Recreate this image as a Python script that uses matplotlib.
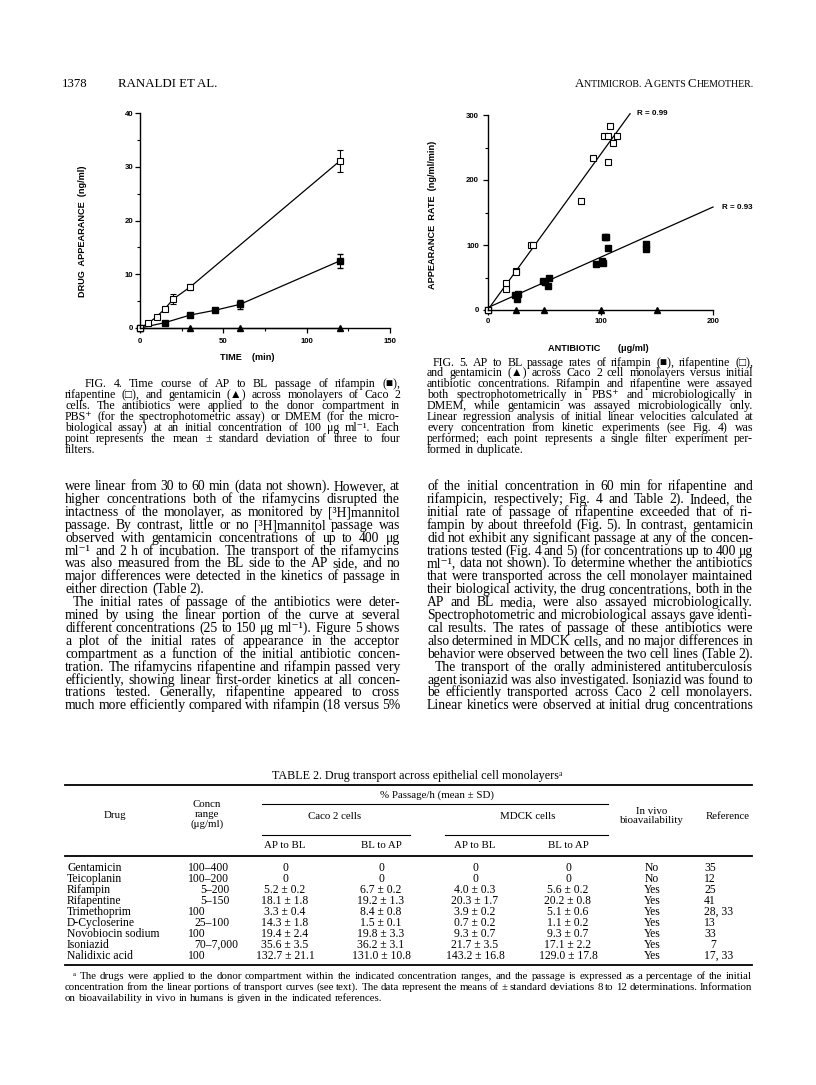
import math
import numpy as np
import matplotlib
matplotlib.use('Agg')
import matplotlib.pyplot as plt
from matplotlib.lines import Line2D
from matplotlib.ticker import MultipleLocator

# ---- Fig. 4 data: drug appearance (ng/ml) vs time (min)
time_pent = [0, 5, 10, 15, 20, 30, 120]
pent = [0, 0.9, 2.1, 3.6, 5.4, 7.6, 31.1]
pent_sd = [0, 0.3, 0.4, 0.4, 1.0, 0.5, 2.1]
time_rif = [0, 15, 30, 45, 60, 120]
rif = [0, 1.0, 2.4, 3.3, 4.4, 12.5]
rif_sd = [0, 0.2, 0.3, 0.3, 0.9, 1.3]
time_gen = [0, 30, 60, 120]
gen = [0, 0, 0, 0]

# ---- Fig. 5 data: appearance rate (ng/ml/min) vs antibiotic (ug/ml)
pent_conc = [0, 16, 16, 25, 25, 38, 40, 83, 93, 103, 107, 108, 107, 111, 115]
pent_rate = [0, 33, 42, 60, 59, 100, 100, 168, 234, 267, 267, 283, 228, 257, 267]
rif_conc = [0, 24, 26, 27, 49, 51, 53, 54, 96, 101, 102, 104, 105, 107, 140, 140]
rif_rate = [0, 23, 17, 25, 45, 43, 37, 49, 71, 75, 72, 113, 112, 95, 101, 94]
gen_conc = [25, 50, 100, 150]
gen_rate = [0, 0, 0, 0]
r_labels = ['R = 0.99', 'R = 0.93']

# ---- Table 2
drugs = ['Gentamicin', 'Teicoplanin', 'Rifampin', 'Rifapentine', 'Trimethoprim',
         'D-Cycloserine', 'Novobiocin sodium', 'Isoniazid', 'Nalidixic acid']
conc_range = ['100–400', '100–200', '5–200', '5–150', '100', '25–100', '100', '70–7,000', '100']
caco_ap_bl = ['0', '0', '5.2 ± 0.2', '18.1 ± 1.8', '3.3 ± 0.4', '14.3 ± 1.8', '19.4 ± 2.4', '35.6 ± 3.5', '132.7 ± 21.1']
caco_bl_ap = ['0', '0', '6.7 ± 0.2', '19.2 ± 1.3', '8.4 ± 0.8', '1.5 ± 0.1', '19.8 ± 3.3', '36.2 ± 3.1', '131.0 ± 10.8']
mdck_ap_bl = ['0', '0', '4.0 ± 0.3', '20.3 ± 1.7', '3.9 ± 0.2', '0.7 ± 0.2', '9.3 ± 0.7', '21.7 ± 3.5', '143.2 ± 16.8']
mdck_bl_ap = ['0', '0', '5.6 ± 0.2', '20.2 ± 0.8', '5.1 ± 0.6', '1.1 ± 0.2', '9.3 ± 0.7', '17.1 ± 2.2', '129.0 ± 17.8']
bioavail = ['No', 'No', 'Yes', 'Yes', 'Yes', 'Yes', 'Yes', 'Yes', 'Yes']
refs = ['35', '12', '25', '41', '28, 33', '13', '33', '7', '17, 33']

# ---- page text
cap4 = ['FIG. 4. Time course of AP to BL passage of rifampin (■),',
        'rifapentine (□), and gentamicin (▲) across monolayers of Caco 2',
        'cells. The antibiotics were applied to the donor compartment in',
        'PBS⁺ (for the spectrophotometric assay) or DMEM (for the micro-',
        'biological assay) at an initial concentration of 100 μg ml⁻¹. Each',
        'point represents the mean ± standard deviation of three to four',
        'filters.']
cap5 = ['FIG. 5. AP to BL passage rates of rifampin (■), rifapentine (□),',
        'and gentamicin (▲) across Caco 2 cell monolayers versus initial',
        'antibiotic concentrations. Rifampin and rifapentine were assayed',
        'both spectrophotometrically in PBS⁺ and microbiologically in',
        'DMEM, while gentamicin was assayed microbiologically only.',
        'Linear regression analysis of initial linear velocities calculated at',
        'every concentration from kinetic experiments (see Fig. 4) was',
        'performed; each point represents a single filter experiment per-',
        'formed in duplicate.']
body_left = ['were linear from 30 to 60 min (data not shown). However, at',
             'higher concentrations both of the rifamycins disrupted the',
             'intactness of the monolayer, as monitored by [³H]mannitol',
             'passage. By contrast, little or no [³H]mannitol passage was',
             'observed with gentamicin concentrations of up to 400 μg',
             'ml⁻¹ and 2 h of incubation. The transport of the rifamycins',
             'was also measured from the BL side to the AP side, and no',
             'major differences were detected in the kinetics of passage in',
             'either direction (Table 2).',
             'The initial rates of passage of the antibiotics were deter-',
             'mined by using the linear portion of the curve at several',
             'different concentrations (25 to 150 μg ml⁻¹). Figure 5 shows',
             'a plot of the initial rates of appearance in the acceptor',
             'compartment as a function of the initial antibiotic concen-',
             'tration. The rifamycins rifapentine and rifampin passed very',
             'efficiently, showing linear first-order kinetics at all concen-',
             'trations tested. Generally, rifapentine appeared to cross',
             'much more efficiently compared with rifampin (18 versus 5%']
body_right = ['of the initial concentration in 60 min for rifapentine and',
              'rifampicin, respectively; Fig. 4 and Table 2). Indeed, the',
              'initial rate of passage of rifapentine exceeded that of ri-',
              'fampin by about threefold (Fig. 5). In contrast, gentamicin',
              'did not exhibit any significant passage at any of the concen-',
              'trations tested (Fig. 4 and 5) (for concentrations up to 400 μg',
              'ml⁻¹, data not shown). To determine whether the antibiotics',
              'that were transported across the cell monolayer maintained',
              'their biological activity, the drug concentrations, both in the',
              'AP and BL media, were also assayed microbiologically.',
              'Spectrophotometric and microbiological assays gave identi-',
              'cal results. The rates of passage of these antibiotics were',
              'also determined in MDCK cells, and no major differences in',
              'behavior were observed between the two cell lines (Table 2).',
              'The transport of the orally administered antituberculosis',
              'agent isoniazid was also investigated. Isoniazid was found to',
              'be efficiently transported across Caco 2 cell monolayers.',
              'Linear kinetics were observed at initial drug concentrations']
footnote = ['ᵃ The drugs were applied to the donor compartment within the indicated concentration ranges, and the passage is expressed as a percentage of the initial',
            'concentration from the linear portions of transport curves (see text). The data represent the means of ± standard deviations 8 to 12 determinations. Information',
            'on bioavailability in vivo in humans is given in the indicated references.']

SERIF = ['Liberation Serif', 'DejaVu Serif', 'DejaVu Sans']
SANS = ['Liberation Sans', 'DejaVu Sans']

W, H = 816, 1085
fig = plt.figure(figsize=(W / 100, H / 100), dpi=100)
fig.patch.set_facecolor('white')
renderer = fig.canvas.get_renderer()


def fx(x):
    return x / W


def fy(y):
    return 1 - y / H


def base(y, size):
    # y is the visual centre of a line; drop to the baseline (whole pixel)
    return math.floor(y + 0.3 * size * 100 / 72 + 0.5)


def put(x, y, s, size, ha='left', family=SERIF, **kw):
    return fig.text(fx(x), fy(base(y, size)), s, fontsize=size, ha=ha, va='baseline',
                    family=family, **kw)


def width_of(s, size):
    t = fig.text(0, 0, s, fontsize=size, family=SERIF)
    w = t.get_window_extent(renderer).width
    t.remove()
    return w


def line_of_words(x0, x1, y, line, size, justify=True, indent=0):
    words = line.split()
    avail = x1 - x0 - indent
    while True:
        objs = [fig.text(0, 0, w, fontsize=size, family=SERIF, va='baseline') for w in words]
        widths = [o.get_window_extent(renderer).width for o in objs]
        if sum(widths) + 2.2 * (len(words) - 1) <= avail or size < 5:
            break
        for o in objs:
            o.remove()
        size *= 0.97
    gap = size * 100 / 72 * 0.25
    if justify and len(words) > 1:
        gap = (avail - sum(widths)) / (len(words) - 1)
    x = x0 + indent
    for o, w in zip(objs, widths):
        o.set_position((fx(x), fy(base(y, size))))
        x += w + gap


def hrule(x0, x1, y, lw=0.8):
    fig.add_artist(Line2D([fx(x0), fx(x1)], [fy(y), fy(y)], transform=fig.transFigure,
                          color='black', lw=lw))


def small_caps(x, y, s, big, small):
    runs = []
    for ch in s:
        sz = big if ch.isupper() else small
        if runs and runs[-1][1] == sz:
            runs[-1][0] += ch.upper()
        else:
            runs.append([ch.upper(), sz])
    for txt, sz in runs:
        t = fig.text(fx(x), fy(y), txt, fontsize=sz, family=SERIF, va='baseline')
        x += t.get_window_extent(renderer).width


# ---- header
put(62, 83, '1378', 9.2)
put(118, 83, 'RANALDI ET AL.', 9.3)
small_caps(575, 87, 'Antimicrob. Agents Chemother.', 9.2, 7.1)


def style(ax):
    for s in ['top', 'right']:
        ax.spines[s].set_visible(False)
    for s in ['left', 'bottom']:
        ax.spines[s].set_linewidth(1.0)
    ax.tick_params(which='major', direction='out', length=3.5, width=0.9, labelsize=5.6)
    ax.tick_params(which='minor', direction='out', length=2, width=0.8)
    for lbl in ax.get_xticklabels() + ax.get_yticklabels():
        lbl.set_fontweight('bold')
        lbl.set_family(SANS)


# ---- Fig. 4
ax4 = fig.add_axes([fx(140), fy(328), 250 / W, 215 / H])
ax4.set_xlim(0, 150)
ax4.set_ylim(0, 40)
ax4.plot(time_gen, gen, color='black', lw=0.9, marker='^', ms=4.2, clip_on=False)
ax4.errorbar(time_rif, rif, yerr=rif_sd, color='black', lw=0.9, marker='s', ms=4.3,
             mfc='black', capsize=2.2, elinewidth=0.8, clip_on=False)
ax4.errorbar(time_pent, pent, yerr=pent_sd, color='black', lw=0.9, marker='s', ms=4.5,
             mfc='white', mew=0.8, capsize=2.2, elinewidth=0.8, clip_on=False)
ax4.xaxis.set_major_locator(MultipleLocator(50))
ax4.xaxis.set_minor_locator(MultipleLocator(25))
ax4.yaxis.set_major_locator(MultipleLocator(10))
ax4.yaxis.set_minor_locator(MultipleLocator(5))
style(ax4)
ax4.tick_params(axis='x', which='major', pad=3.5)
ax4.tick_params(axis='y', which='major', pad=1.5)
ax4.set_ylabel('DRUG  APPEARANCE  (ng/ml)', fontsize=6.6, fontweight='bold', family=SANS)
ax4.yaxis.set_label_coords(-0.212, 0.45)
ax4.set_xlabel('TIME    (min)', fontsize=6.6, fontweight='bold', family=SANS)
ax4.xaxis.set_label_coords(0.43, -0.118)

# ---- Fig. 5
ax5 = fig.add_axes([fx(488), fy(310), 225 / W, 195 / H])
ax5.set_xlim(0, 200)
ax5.set_ylim(0, 300)
m1, b1 = np.polyfit(pent_conc, pent_rate, 1)
m2, b2 = np.polyfit(rif_conc, rif_rate, 1)
x1_end = (302 - b1) / m1
ax5.plot([0, x1_end], [b1, m1 * x1_end + b1], color='black', lw=0.9, clip_on=False)
ax5.plot([0, 200], [b2, m2 * 200 + b2], color='black', lw=0.9, clip_on=False)
ax5.plot(rif_conc, rif_rate, ls='none', marker='s', ms=5.0, color='black', clip_on=False)
ax5.plot(pent_conc, pent_rate, ls='none', marker='s', ms=4.7, mfc='white', mec='black',
         mew=0.8, clip_on=False)
ax5.plot(gen_conc, gen_rate, ls='none', marker='^', ms=4.4, color='black', clip_on=False)
ax5.text(x1_end + 6, m1 * x1_end + b1, r_labels[0], fontsize=5.8, fontweight='bold',
         family=SANS, va='center')
ax5.text(208, m2 * 200 + b2, r_labels[1], fontsize=5.8, fontweight='bold',
         family=SANS, va='center', clip_on=False)
ax5.xaxis.set_major_locator(MultipleLocator(100))
ax5.xaxis.set_minor_locator(MultipleLocator(50))
ax5.yaxis.set_major_locator(MultipleLocator(100))
ax5.yaxis.set_minor_locator(MultipleLocator(50))
style(ax5)
ax5.tick_params(axis='x', which='major', pad=2)
ax5.tick_params(axis='y', which='major', pad=3)
ax5.set_ylabel('APPEARANCE  RATE  (ng/ml/min)', fontsize=6.6, fontweight='bold', family=SANS)
ax5.yaxis.set_label_coords(-0.227, 0.49)
ax5.set_xlabel('ANTIBIOTIC       (μg/ml)', fontsize=6.6, fontweight='bold', family=SANS)
ax5.xaxis.set_label_coords(0.49, -0.174)

# ---- captions
for i, ln in enumerate(cap4):
    line_of_words(65, 400, 383 + i * 11.1, ln, 8.6, justify=i < len(cap4) - 1,
                  indent=20 if i == 0 else 0)
for i, ln in enumerate(cap5):
    line_of_words(427, 753, 362 + i * 10.9, ln, 8.6, justify=i < len(cap5) - 1,
                  indent=6 if i == 0 else 0)

# ---- body text
for i, ln in enumerate(body_left):
    line_of_words(65, 400, 486 + i * 12.9, ln, 9.8, justify=(i != 8),
                  indent=8 if i == 9 else 0)
for i, ln in enumerate(body_right):
    line_of_words(427, 753, 486 + i * 12.9, ln, 9.8, justify=True,
                  indent=8 if i == 14 else 0)

# ---- table
TS = 8.4
put(417, 775, 'TABLE 2. Drug transport across epithelial cell monolayersᵃ', 8.7, ha='center')
hrule(65, 752, 785, 1.3)
put(437, 795, '% Passage/h (mean ± SD)', 7.8, ha='center')
hrule(262, 608, 804)
put(115, 815, 'Drug', 7.8, ha='center')
for j, s in enumerate(['Concn', 'range', '(μg/ml)']):
    put(207, 804 + j * 10, s, 7.8, ha='center')
put(335, 816, 'Caco 2 cells', 7.8, ha='center')
put(528, 816, 'MDCK cells', 7.8, ha='center')
hrule(262, 410, 835)
hrule(445, 608, 835)
put(652, 811, 'In vivo', 7.8, ha='center')
put(652, 820, 'bioavailability', 7.8, ha='center')
put(728, 816, 'Reference', 7.8, ha='center')
col_centres = [285, 381, 475, 568]
for k, c in enumerate(col_centres):
    put(c, 845, 'AP to BL' if k % 2 == 0 else 'BL to AP', 7.8, ha='center')
hrule(65, 752, 856, 1.3)

for i in range(len(drugs)):
    y = 867 + i * 11.0
    put(67, y, drugs[i], TS)
    # ranges line up on the dash, plain values start where the ranges do
    head = conc_range[i].split('–')[0] if '–' in conc_range[i] else None
    if head is not None:
        put(206 - width_of(head, TS), y, conc_range[i], TS)
    else:
        put(188, y, conc_range[i], TS)
    for c, col in zip(col_centres, [caco_ap_bl, caco_bl_ap, mdck_ap_bl, mdck_bl_ap]):
        put(c, y, col[i], TS, ha='center')
    put(652, y, bioavail[i], TS, ha='center')
    first = refs[i].split(',')[0]
    put(716 - width_of(first, TS), y, refs[i], TS)
hrule(65, 752, 965, 1.3)

for i, ln in enumerate(footnote):
    line_of_words(65, 752, 976 + i * 10.8, ln, 7.8, justify=i < len(footnote) - 1,
                  indent=8 if i == 0 else 0)

fig.savefig('out.png', dpi=100, facecolor='white')
